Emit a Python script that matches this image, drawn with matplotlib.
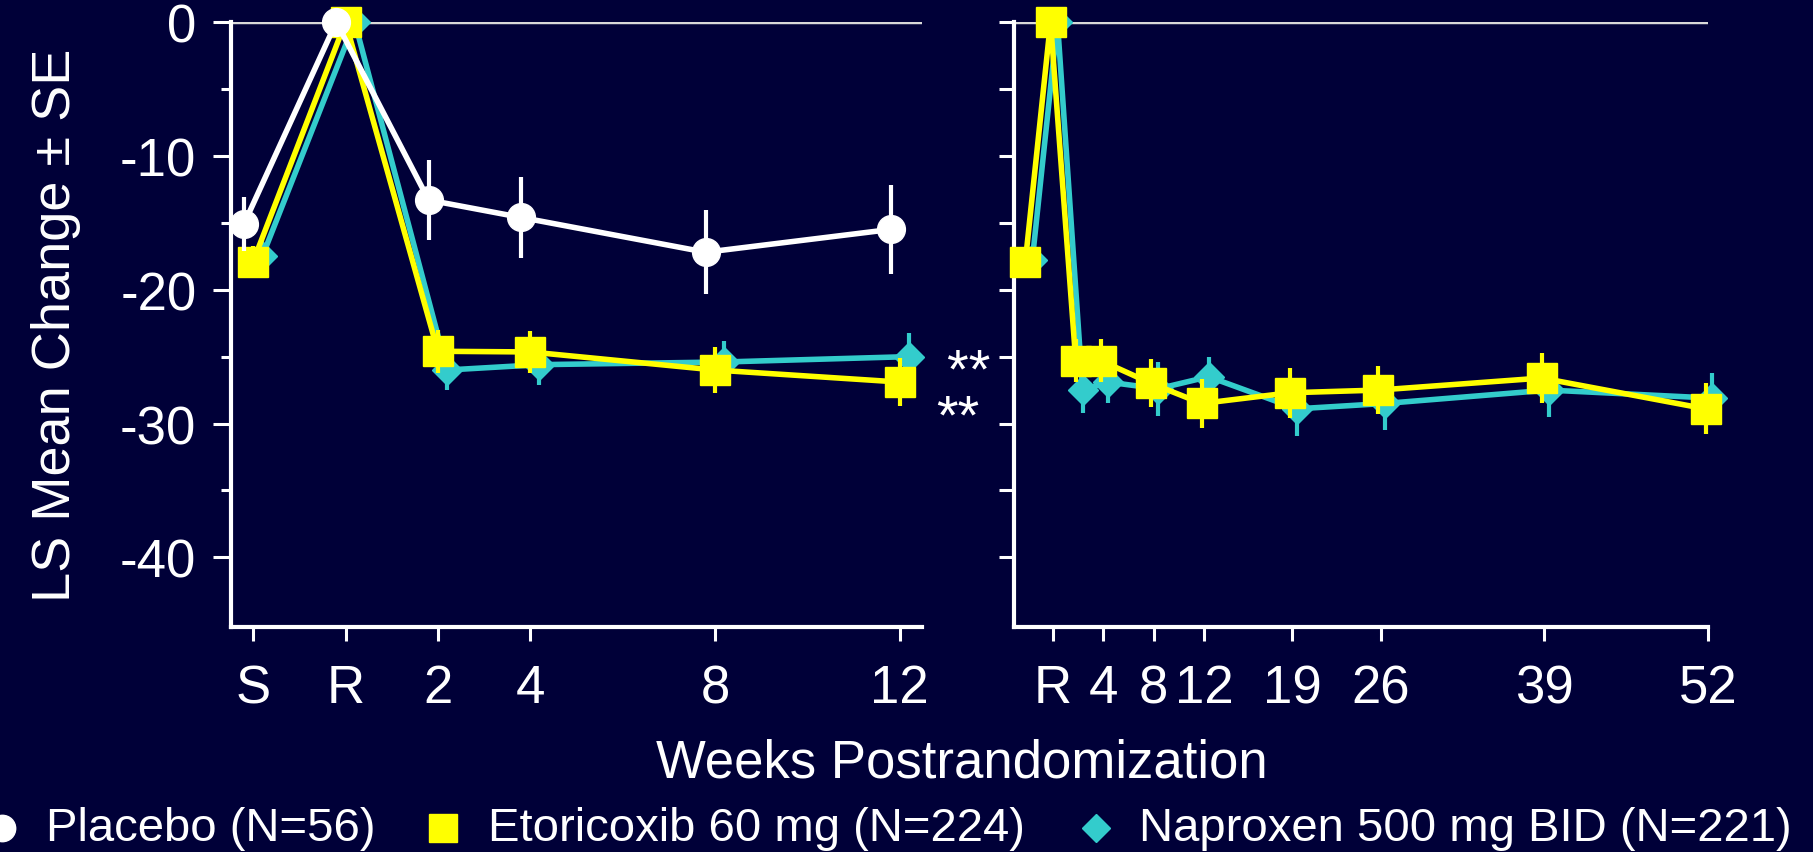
import matplotlib
matplotlib.use("Agg")
import matplotlib.pyplot as plt
from matplotlib.lines import Line2D
import numpy as np

plt.rcParams['font.family'] = ['Liberation Sans', 'DejaVu Sans']
plt.rcParams['axes.unicode_minus'] = False

BG = '#000038'
WHITE = '#ffffff'
YELLOW = '#ffff00'
CYAN = '#33cccc'

# ---- data: 12-week panel ----
weeks_12 = [-2, 0, 2, 4, 8, 12]
labels_12 = ['S', 'R', '2', '4', '8', '12']

placebo_12 = [-15.1, 0, -13.3, -14.6, -17.2, -15.5]
placebo_12_se = [2.0, 0, 3.0, 3.0, 3.15, 3.3]
etori_12 = [-17.9, 0, -24.6, -24.65, -26.0, -26.9]
etori_12_se = [1.2, 0, 1.6, 1.6, 1.7, 1.8]
napro_12 = [-17.5, 0, -26.0, -25.6, -25.4, -25.0]
napro_12_se = [1.2, 0, 1.5, 1.5, 1.6, 1.75]

# ---- data: 52-week panel ----
weeks_52 = [-2, 0, 2, 4, 8, 12, 19, 26, 39, 52]
tick_weeks_52 = [0, 4, 8, 12, 19, 26, 39, 52]
labels_52 = ['R', '4', '8', '12', '19', '26', '39', '52']

etori_52 = [-17.9, 0, -25.3, -25.3, -27.0, -28.5, -27.7, -27.5, -26.6, -28.9]
etori_52_se = [1.0, 0, 1.6, 1.6, 1.8, 1.8, 1.85, 1.8, 1.9, 1.9]
napro_52 = [-17.8, 0, -27.5, -26.9, -27.4, -26.5, -28.9, -28.5, -27.5, -28.1]
napro_52_se = [1.0, 0, 1.7, 1.6, 2.0, 1.5, 2.0, 2.0, 2.0, 1.9]

legend_labels = ['Placebo (N=56)', 'Etoricoxib 60 mg (N=224)', 'Naproxen 500 mg BID (N=221)']

fig = plt.figure(figsize=(18.13, 8.53), dpi=100, facecolor=BG)

ax1 = fig.add_axes([0.1274, 0.2638, 0.3811, 0.7092])
ax2 = fig.add_axes([0.5593, 0.2638, 0.3828, 0.7092])

LW = 4.0
ELW = 3.0


def series(ax, x, y, se, marker, color, ms, z, offset):
    xs = np.asarray(x, dtype=float) + offset
    ax.errorbar(xs, y, yerr=se, fmt='-' + marker, color=color, ms=ms,
                lw=LW, elinewidth=ELW, capsize=0, mec=color, zorder=z,
                clip_on=False)


series(ax1, weeks_12, napro_12, napro_12_se, 'D', CYAN, 15, 3, 0.2)
series(ax1, weeks_12, etori_12, etori_12_se, 's', YELLOW, 21.5, 4, 0.0)
series(ax1, weeks_12, placebo_12, placebo_12_se, 'o', WHITE, 20, 5, -0.2)

series(ax2, weeks_52, napro_52, napro_52_se, 'D', CYAN, 15, 3, 0.35)
series(ax2, weeks_52, etori_52, etori_52_se, 's', YELLOW, 21.5, 4, -0.2)

for ax in (ax1, ax2):
    ax.set_facecolor(BG)
    ax.set_ylim(-45.2, 0)
    ax.axhline(0, color='#d9d9d9', lw=3.2, zorder=1)
    for s in ('top', 'right'):
        ax.spines[s].set_visible(False)
    for s in ('left', 'bottom'):
        ax.spines[s].set_color(WHITE)
        ax.spines[s].set_linewidth(3.0)
    ax.set_yticks([0, -10, -20, -30, -40])
    ax.set_yticks([-5, -15, -25, -35], minor=True)
    ax.tick_params(which='both', colors=WHITE, width=2.2, labelsize=38)
    ax.tick_params(axis='x', length=10, pad=16)

ax1.set_xlim(-2.48, 12.48)
ax1.set_xticks(weeks_12)
ax1.set_xticklabels(labels_12)
ax1.tick_params(axis='y', which='major', length=13, pad=12)
ax1.tick_params(axis='y', which='minor', length=7)
ax1.set_ylabel('LS Mean Change \u00b1 SE', color=WHITE, fontsize=39, labelpad=28)

ax2.set_xlim(-3.1, 52)
ax2.set_xticks(tick_weeks_52)
ax2.set_xticklabels(labels_52)
ax2.tick_params(axis='y', which='both', length=11, labelleft=False)

fig.text(0.5306, 0.105, 'Weeks Postrandomization', color=WHITE, fontsize=38,
         ha='center', va='center')

# significance marks (two stacked lines, second one nudged left)
fig.text(0.5315, 0.535, '\u2009**\n**', color=WHITE, fontsize=40, ha='center',
         va='center', multialignment='left', linespacing=0.85)

# legend row
leg_y = 0.028
handles = [('o', WHITE, 19, 0.001), ('s', YELLOW, 20, 0.2443), ('D', CYAN, 14, 0.6045)]
text_x = [0.0254, 0.2692, 0.6283]
for (m, c, ms, mx), lab, tx in zip(handles, legend_labels, text_x):
    fig.add_artist(Line2D([mx], [leg_y], marker=m, color=c, ms=ms, ls='none',
                          transform=fig.transFigure, clip_on=False))
    fig.text(tx, leg_y, lab, color=WHITE, fontsize=34, ha='left', va='center')

fig.savefig('out.png', dpi=100, facecolor=BG)
